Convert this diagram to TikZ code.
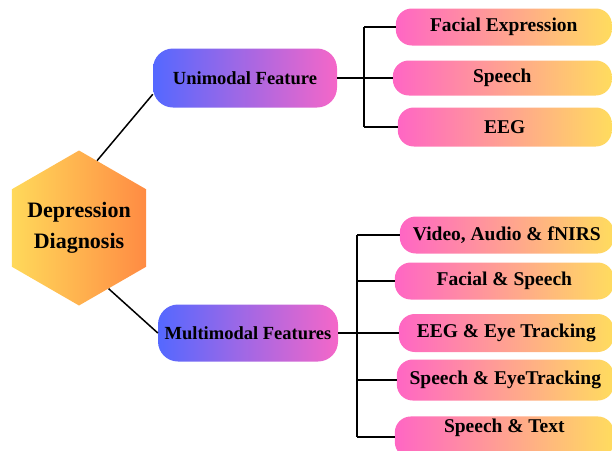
\documentclass[tikz,border=0pt]{standalone}
\usepackage{fontspec}
\setmainfont{Liberation Serif}
\usepackage{tikz}
\usepackage{xcolor}
\usetikzlibrary{calc}
\usetikzlibrary{shapes.geometric}
\definecolor{hexleft}{HTML}{FFD95A}
\definecolor{hexright}{HTML}{FF8B43}
\definecolor{midleft}{HTML}{5468FF}
\definecolor{midright}{HTML}{F567C8}
\definecolor{leafleft}{HTML}{FF66C4}
\definecolor{leafright}{HTML}{FFDC5E}
\tikzstyle{hexnode} =[
    regular polygon,
    regular polygon sides=6,
    shape border rotate=30,
    minimum size=155pt,
    inner sep=-14pt,
    left color=hexleft,
    right color=hexright,
    align=center,
    font=\fontsize{22}{31}\selectfont\bfseries
    ]
\tikzstyle{midbox} = [
    rectangle,
    rounded corners=20pt,
    minimum height=59pt,
    left color=midleft,
    right color=midright,
    font=\fontsize{18.5}{22}\selectfont\bfseries
    ]
\tikzstyle{leafbox} = [
    rectangle,
    rounded corners=16pt,
    minimum height=37pt,
    minimum width=216pt,
    anchor=east,
    left color=leafleft,
    right color=leafright,
    font=\fontsize{19.5}{23}\selectfont\bfseries
    ]
\tikzstyle{link} = [line width=1.5pt, black]

\begin{document}
\begin{tikzpicture}[x=1pt,y=-1pt]
\useasboundingbox (0,0) rectangle (612,450);

% root
\node[hexnode] (diag) at (79,228) {Depression\\Diagnosis};

% second level
\node[midbox, minimum width=184pt] (uni) at (245,78) {Unimodal Feature};
\node[midbox, minimum width=180pt, minimum height=57pt] (multi) at (248,333) {Multimodal Features};

% unimodal leaves
\node[leafbox] (face) at (612,27) {Facial Expression};
\node[leafbox, minimum width=219pt, minimum height=35pt] (speech) at (612,78) {Speech};
\node[leafbox, minimum width=214pt, minimum height=39pt] (eeg) at (612,127) {EEG};

% multimodal leaves
\node[leafbox, minimum width=214pt] (vaf) at (614,235) {Video, Audio \& fNIRS};
\node[leafbox, minimum width=219pt] (fs) at (614,281) {Facial \& Speech};
\node[leafbox, minimum width=215pt, minimum height=38pt] (eet) at (614,333) {EEG \& Eye Tracking};
\node[leafbox, minimum width=217pt, minimum height=41pt] (set) at (614,380) {Speech \& EyeTracking};
\node[leafbox, minimum width=219pt, inner ysep=2pt, text depth=24pt, anchor=base east] (st) at (614,432) {Speech \& Text};

% links
\draw[link] (diag.75) -- (uni.190);
\draw[link] (diag.-64) -- (multi.west);

\coordinate (ubar) at (364,78);
\draw[link] (uni.east) -- (speech.west);
\draw[link] (ubar |- face.west) -- (ubar |- eeg.west);
\foreach \leaf in {face,eeg}
    \draw[link] (ubar |- \leaf.west) -- (\leaf.west);

\coordinate (mbar) at (357,333);
\draw[link] (multi.east) -- (eet.west);
\draw[link] (mbar |- vaf.west) -- (mbar |- st.west);
\foreach \leaf in {vaf,fs,set,st}
    \draw[link] (mbar |- \leaf.west) -- (\leaf.west);
\end{tikzpicture}
\end{document}
